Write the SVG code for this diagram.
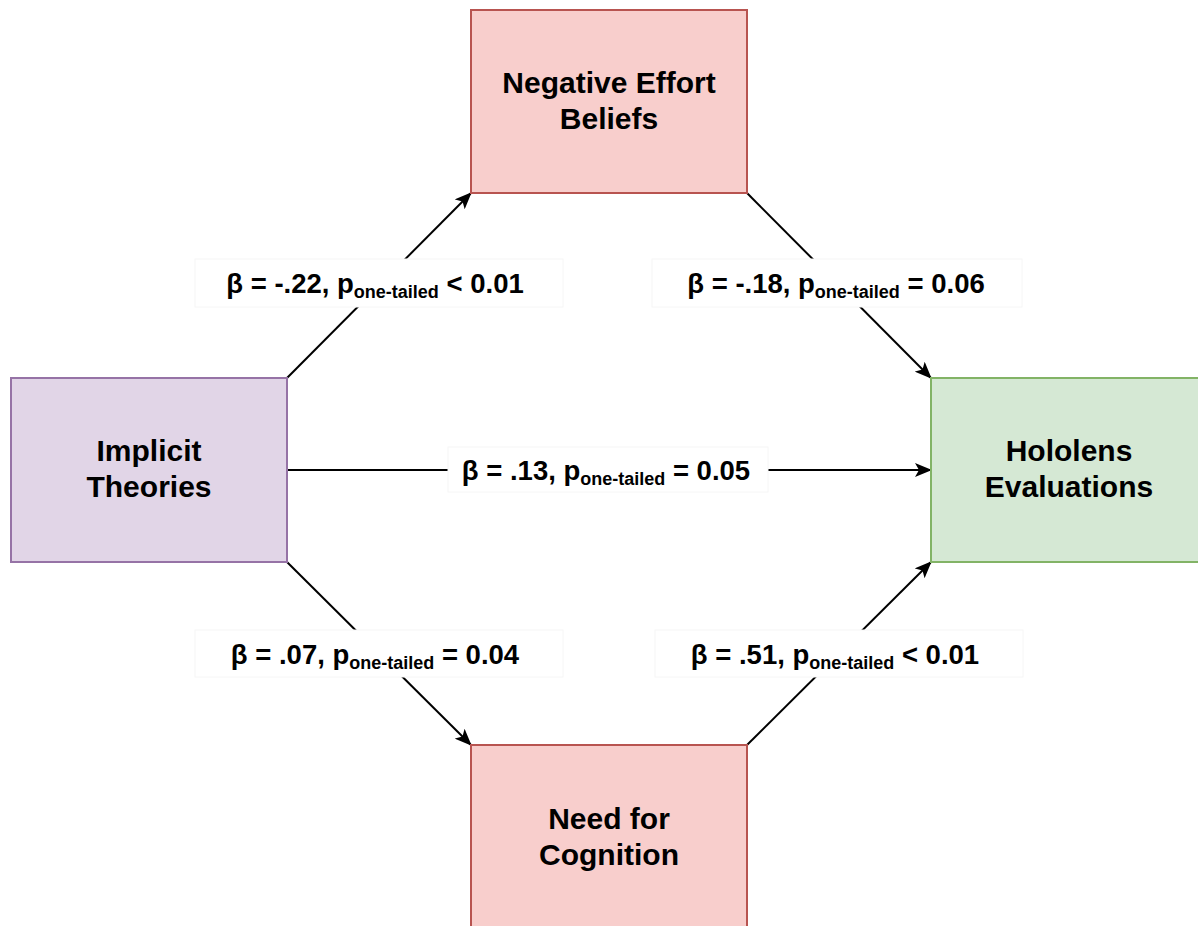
<svg xmlns="http://www.w3.org/2000/svg" width="1198" height="926" viewBox="0 0 1198 926">
<style>
.node text, .lbl text { font-family: "Liberation Sans", Arial, Helvetica, sans-serif; font-weight: bold; fill: #000; text-anchor: middle; }
.node text { font-size: 30px; }
.lbl text { font-size: 27.5px; }
.sub { font-size: 18px; }
.purple { fill: #e1d5e7; stroke: #9673a6; stroke-width: 2; }
.red { fill: #f8cecc; stroke: #b85450; stroke-width: 2; }
.green { fill: #d5e8d4; stroke: #82b366; stroke-width: 2; }
.edge { stroke: #000; stroke-width: 2; fill: none; marker-end: url(#arrow); }
.lblbg { fill: #ffffff; stroke: #f6f6f6; stroke-width: 1; }
</style>
<defs>
<marker id="arrow" markerUnits="userSpaceOnUse" markerWidth="17" markerHeight="14" viewBox="0 0 17 14" refX="16" refY="7" orient="auto">
<path d="M0,0 L17,7 L0,14 L4,7 Z" fill="#000"/>
</marker>
</defs>
<rect width="1198" height="926" fill="#ffffff"/>
<g id="connectors">
<line class="edge" x1="287" y1="378" x2="471" y2="193"/>
<line class="edge" x1="747" y1="193" x2="931" y2="378"/>
<line class="edge" x1="287" y1="470" x2="931" y2="470"/>
<line class="edge" x1="287" y1="562" x2="471" y2="745"/>
<line class="edge" x1="747" y1="745" x2="931" y2="562"/>
</g>
<g id="node-implicit" class="node">
<rect class="purple" x="11" y="378" width="276" height="184"/>
<text x="149" y="461">Implicit</text>
<text x="149" y="497">Theories</text>
</g>
<g id="node-negative" class="node">
<rect class="red" x="471" y="10" width="276" height="183"/>
<text x="609" y="93">Negative Effort</text>
<text x="609" y="129">Beliefs</text>
</g>
<g id="node-hololens" class="node">
<rect class="green" x="931" y="378" width="276" height="184"/>
<text x="1069" y="461">Hololens</text>
<text x="1069" y="497">Evaluations</text>
</g>
<g id="node-need" class="node">
<rect class="red" x="471" y="745" width="276" height="184"/>
<text x="609" y="829">Need for</text>
<text x="609" y="865">Cognition</text>
</g>
<g id="label-1" class="lbl">
<rect class="lblbg" x="195" y="259" width="368" height="48"/>
<text x="375" y="293">β = -.22, p<tspan class="sub" dy="5">one-tailed</tspan><tspan dy="-5"> &lt; 0.01</tspan></text>
</g>
<g id="label-2" class="lbl">
<rect class="lblbg" x="652" y="259" width="370" height="48"/>
<text x="836" y="293">β = -.18, p<tspan class="sub" dy="5">one-tailed</tspan><tspan dy="-5"> = 0.06</tspan></text>
</g>
<g id="label-3" class="lbl">
<rect class="lblbg" x="448" y="447" width="320" height="45"/>
<text x="606" y="480">β = .13, p<tspan class="sub" dy="5">one-tailed</tspan><tspan dy="-5"> = 0.05</tspan></text>
</g>
<g id="label-4" class="lbl">
<rect class="lblbg" x="195" y="630" width="368" height="47"/>
<text x="375" y="664">β = .07, p<tspan class="sub" dy="5">one-tailed</tspan><tspan dy="-5"> = 0.04</tspan></text>
</g>
<g id="label-5" class="lbl">
<rect class="lblbg" x="655" y="630" width="368" height="47"/>
<text x="835" y="664">β = .51, p<tspan class="sub" dy="5">one-tailed</tspan><tspan dy="-5"> &lt; 0.01</tspan></text>
</g>
</svg>
